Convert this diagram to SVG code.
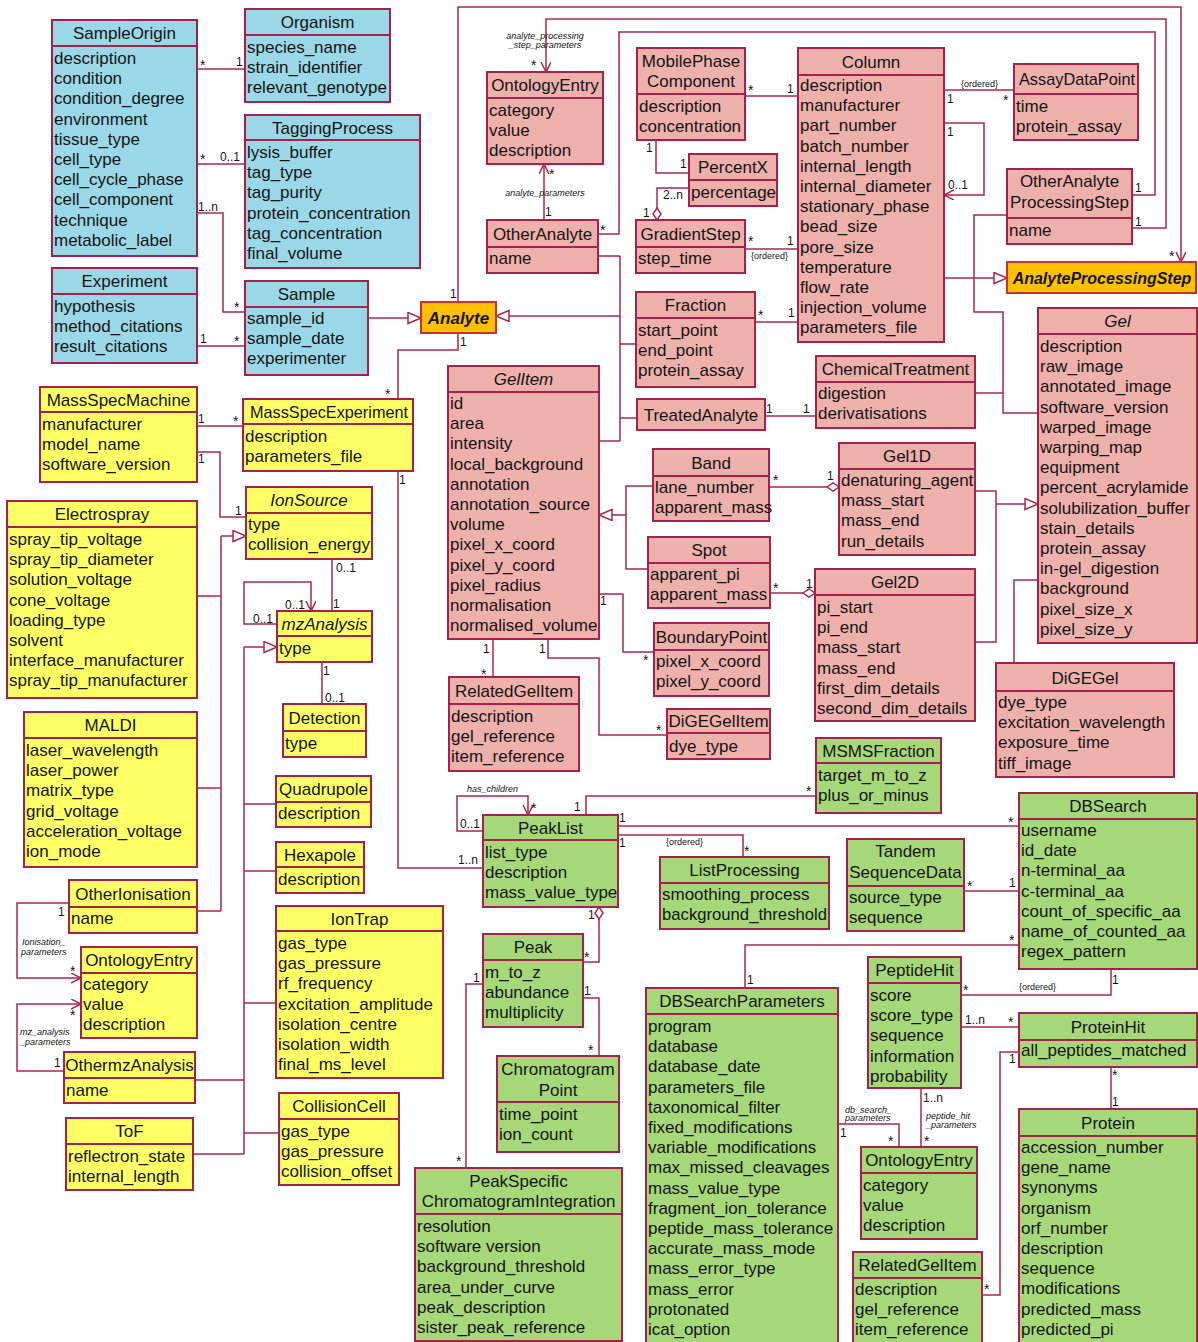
<svg xmlns="http://www.w3.org/2000/svg" width="1198" height="1342" viewBox="0 0 1198 1342">
<defs>
<style>
text{font-family:"Liberation Sans",Arial,sans-serif;fill:#141414}
.box{stroke:#a3214a;stroke-width:2}
.blue{fill:#9bd8e7}
.pink{fill:#eeb0ab}
.yel{fill:#ffff66}
.grn{fill:#a6d87a}
.org{fill:#ffc000;stroke:#d0302a}
.sep{stroke:#a3214a;stroke-width:2}
.t{font-size:17px;text-anchor:middle}
.ti{font-style:italic}
.bi{font-style:italic;font-weight:bold}
.a{font-size:17px}
.m{font-size:12px}
.s{font-size:14px}
.r{font-size:9px;font-style:italic;fill:#333}
.rc{text-anchor:middle}
.o{font-size:9px;fill:#333}
.c{fill:none;stroke:#a8284e;stroke-width:1.5}
</style>
<marker id="arr" markerUnits="userSpaceOnUse" markerWidth="12" markerHeight="12" refX="10" refY="5" orient="auto">
<path d="M0,0 L10,5 L0,10" fill="none" stroke="#a8284e" stroke-width="1.5"/>
</marker>
<marker id="tri" markerUnits="userSpaceOnUse" markerWidth="16" markerHeight="14" refX="14" refY="6" orient="auto">
<path d="M1,0.5 L14,6 L1,11.5 Z" fill="#fff" stroke="#a8284e" stroke-width="1.5"/>
</marker>
<marker id="dia" markerUnits="userSpaceOnUse" markerWidth="14" markerHeight="12" refX="13" refY="5" orient="auto">
<path d="M1,5 L7,1 L13,5 L7,9 Z" fill="#fff" stroke="#a8284e" stroke-width="1.5"/>
</marker>
</defs>
<rect width="1198" height="1342" fill="#fff"/>

<!-- associations, generalisations and aggregations -->
<g id="connectors">
<path class="c" d="M197,69H245"/>
<path class="c" d="M197,164H245"/>
<path class="c" d="M197,213H223V312H245"/>
<path class="c" d="M197,346H245"/>
<path class="c" d="M368,318H421" marker-end="url(#tri)"/>
<path class="c" d="M458,302V7H1181V262" marker-end="url(#arr)"/>
<path class="c" d="M1132,228H1166V19H546V72" marker-end="url(#arr)"/>
<path class="c" d="M1132,195H1155V32H619V234H598"/>
<path class="c" d="M544,220V164" marker-end="url(#arr)"/>
<path class="c" d="M620,316H496" marker-end="url(#tri)"/>
<path class="c" d="M620,256V441M598,256H620M620,344H636M620,418H637M599,441H620"/>
<path class="c" d="M745,96H798"/>
<path class="c" d="M656,140V173H689"/>
<path class="c" d="M689,188H657V220" marker-end="url(#dia)"/>
<path class="c" d="M745,249H798"/>
<path class="c" d="M755,322H798"/>
<path class="c" d="M944,90H1014"/>
<path class="c" d="M944,123H984V195H944" marker-end="url(#arr)"/>
<path class="c" d="M944,278H1007" marker-end="url(#tri)"/>
<path class="c" d="M1007,215H974V312H1003V413H1038M975,393H1003"/>
<path class="c" d="M765,416H816"/>
<path class="c" d="M975,491H996V642H975"/>
<path class="c" d="M996,504H1038" marker-end="url(#tri)"/>
<path class="c" d="M1038,580H1014V663"/>
<path class="c" d="M769,487H839" marker-end="url(#dia)"/>
<path class="c" d="M770,593H815" marker-end="url(#dia)"/>
<path class="c" d="M653,486H626V569H648"/>
<path class="c" d="M626,515H599" marker-end="url(#tri)"/>
<path class="c" d="M599,594H623V652H654"/>
<path class="c" d="M493,639V677"/>
<path class="c" d="M548,639V658H599V735H667"/>
<path class="c" d="M458,333V350H398V399"/>
<path class="c" d="M398,471V868H483"/>
<path class="c" d="M197,426H243"/>
<path class="c" d="M197,452H220V517H246"/>
<path class="c" d="M221,536H246" marker-end="url(#tri)"/>
<path class="c" d="M221,536V911M197,596H221M197,788H221M197,911H221"/>
<path class="c" d="M332,559V611"/>
<path class="c" d="M277,624H244V582H311V611" marker-end="url(#arr)"/>
<path class="c" d="M244,647H277" marker-end="url(#tri)"/>
<path class="c" d="M244,647V1154M244,804H276M244,871H276M244,1003H276M195,1080H244M244,1133H279M193,1154H244"/>
<path class="c" d="M322,662V704"/>
<path class="c" d="M69,903H17V978H81" marker-end="url(#arr)"/>
<path class="c" d="M64,1071H17V1004H81" marker-end="url(#arr)"/>
<path class="c" d="M483,831H457V796H528V815" marker-end="url(#arr)"/>
<path class="c" d="M586,815V796H816"/>
<path class="c" d="M618,826H1019"/>
<path class="c" d="M618,835H743V857"/>
<path class="c" d="M964,891H1019"/>
<path class="c" d="M1019,945H745V988"/>
<path class="c" d="M1111,969V995H961"/>
<path class="c" d="M583,962H599V907" marker-end="url(#dia)"/>
<path class="c" d="M583,998H599V1056"/>
<path class="c" d="M483,984H466V1168"/>
<path class="c" d="M961,1027H1019"/>
<path class="c" d="M921,1088V1147"/>
<path class="c" d="M838,1124H899V1147"/>
<path class="c" d="M1111,1067V1109"/>
<path class="c" d="M1019,1052H1000V1295H982"/>

<!-- multiplicities -->
<g class="m">
<text class="s" x="200" y="70">*</text><text x="236" y="66">1</text>
<text class="s" x="200" y="164">*</text><text x="220" y="161">0..1</text>
<text x="198" y="211">1..n</text><text class="s" x="234" y="312">*</text>
<text x="200" y="343">1</text><text class="s" x="234" y="346">*</text>
<text x="450" y="298">1</text><text class="s" x="1169" y="261">*</text>
<text x="1135" y="226">1</text><text class="s" x="531" y="70">*</text>
<text x="1135" y="192">1</text><text class="s" x="600" y="235">*</text>
<text class="s" x="549" y="179">*</text><text x="545" y="216">1</text>
<text class="s" x="748" y="95">*</text><text x="787" y="93">1</text>
<text x="646" y="152">1</text><text x="680" y="168">1</text>
<text x="663" y="199">2..n</text><text x="643" y="217">1</text>
<text class="s" x="748" y="246">*</text><text x="787" y="245">1</text>
<text class="s" x="758" y="320">*</text><text x="788" y="317">1</text>
<text x="947" y="103">1</text><text class="s" x="1003" y="105">*</text>
<text x="947" y="136">1</text><text x="948" y="189">0..1</text>
<text x="766" y="413">1</text><text x="803" y="413">1</text>
<text class="s" x="773" y="485">*</text><text x="827" y="480">1</text>
<text class="s" x="773" y="593">*</text><text x="806" y="588">1</text>
<text x="600" y="605">1</text><text class="s" x="643" y="665">*</text>
<text x="483" y="653">1</text><text class="s" x="481" y="679">*</text>
<text x="539" y="653">1</text><text class="s" x="656" y="735">*</text>
<text x="460" y="346">1</text><text class="s" x="385" y="399">*</text>
<text x="399" y="484">1</text><text x="458" y="864">1..n</text>
<text x="198" y="423">1</text><text class="s" x="233" y="426">*</text>
<text x="198" y="463">1</text><text x="235" y="515">1</text>
<text x="336" y="572">0..1</text><text x="333" y="608">1</text>
<text x="285" y="609">0..1</text><text x="253" y="623">0..1</text>
<text x="323" y="675">1</text><text x="325" y="702">0..1</text>
<text x="58" y="916">1</text><text class="s" x="70" y="976">*</text>
<text x="54" y="1067">1</text><text class="s" x="70" y="1020">*</text>
<text class="s" x="531" y="813">*</text><text x="460" y="828">0..1</text>
<text x="574" y="811">1</text><text class="s" x="806" y="796">*</text>
<text x="619" y="822">1</text><text class="s" x="1008" y="827">*</text>
<text x="619" y="847">1</text><text class="s" x="744" y="856">*</text>
<text class="s" x="967" y="891">*</text><text x="1009" y="887">1</text>
<text class="s" x="1009" y="945">*</text><text x="747" y="984">1</text>
<text x="1112" y="984">1</text><text class="s" x="963" y="995">*</text>
<text x="588" y="919">1</text><text class="s" x="584" y="962">*</text>
<text x="584" y="995">1</text><text class="s" x="588" y="1055">*</text>
<text x="473" y="982">1</text><text class="s" x="456" y="1166">*</text>
<text x="965" y="1024">1..n</text><text class="s" x="1008" y="1027">*</text>
<text x="923" y="1102">1..n</text><text class="s" x="924" y="1146">*</text>
<text x="840" y="1137">1</text><text class="s" x="888" y="1146">*</text>
<text class="s" x="1112" y="1080">*</text><text x="1112" y="1106">1</text>
<text x="1009" y="1063">1</text><text class="s" x="984" y="1294">*</text>
</g>
<!-- constraints -->
<g class="o">
<text x="961" y="87">{ordered}</text>
<text x="751" y="259">{ordered}</text>
<text x="666" y="845">{ordered}</text>
<text x="1019" y="990">{ordered}</text>
</g>
<!-- role names -->
<g class="r">
<text class="rc" x="545" y="39">analyte_processing</text>
<text class="rc" x="545" y="48">_step_parameters</text>
<text class="rc" x="545" y="196">analyte_parameters</text>
<text x="467" y="792">has_children</text>
<text x="22" y="945">Ionisation_</text>
<text x="21" y="955">parameters</text>
<text x="20" y="1035">mz_analysis</text>
<text x="20" y="1045">_parameters</text>
<text x="845" y="1113">db_search_</text>
<text x="845" y="1121">parameters</text>
<text x="926" y="1119">peptide_hit</text>
<text x="926" y="1128">_parameters</text>
</g>
</g>

<!-- sample description (blue) -->
<g id="SampleOrigin">
<rect class="box blue" x="52" y="20" width="145" height="236"/>
<line class="sep" x1="52" y1="46" x2="197" y2="46"/>
<text class="t" x="124.5" y="39">SampleOrigin</text>
<text class="a" x="54" y="64"><tspan>description</tspan><tspan x="54" dy="20.2">condition</tspan><tspan x="54" dy="20.2">condition_degree</tspan><tspan x="54" dy="20.2">environment</tspan><tspan x="54" dy="20.2">tissue_type</tspan><tspan x="54" dy="20.2">cell_type</tspan><tspan x="54" dy="20.2">cell_cycle_phase</tspan><tspan x="54" dy="20.2">cell_component</tspan><tspan x="54" dy="20.2">technique</tspan><tspan x="54" dy="20.2">metabolic_label</tspan></text>
</g>
<g id="Organism">
<rect class="box blue" x="245" y="9" width="145" height="93"/>
<line class="sep" x1="245" y1="35" x2="390" y2="35"/>
<text class="t" x="317.5" y="28">Organism</text>
<text class="a" x="247" y="53"><tspan>species_name</tspan><tspan x="247" dy="20.2">strain_identifier</tspan><tspan x="247" dy="20.2">relevant_genotype</tspan></text>
</g>
<g id="TaggingProcess">
<rect class="box blue" x="245" y="115" width="175" height="153"/>
<line class="sep" x1="245" y1="140" x2="420" y2="140"/>
<text class="t" x="332.5" y="134">TaggingProcess</text>
<text class="a" x="247" y="158"><tspan>lysis_buffer</tspan><tspan x="247" dy="20.2">tag_type</tspan><tspan x="247" dy="20.2">tag_purity</tspan><tspan x="247" dy="20.2">protein_concentration</tspan><tspan x="247" dy="20.2">tag_concentration</tspan><tspan x="247" dy="20.2">final_volume</tspan></text>
</g>
<g id="Experiment">
<rect class="box blue" x="52" y="268" width="145" height="95"/>
<line class="sep" x1="52" y1="294" x2="197" y2="294"/>
<text class="t" x="124.5" y="287">Experiment</text>
<text class="a" x="54" y="312"><tspan>hypothesis</tspan><tspan x="54" dy="20.2">method_citations</tspan><tspan x="54" dy="20.2">result_citations</tspan></text>
</g>
<g id="Sample">
<rect class="box blue" x="245" y="281" width="123" height="94"/>
<line class="sep" x1="245" y1="307" x2="368" y2="307"/>
<text class="t" x="306.5" y="300">Sample</text>
<text class="a" x="247" y="324"><tspan>sample_id</tspan><tspan x="247" dy="20.2">sample_date</tspan><tspan x="247" dy="20.2">experimenter</tspan></text>
</g>

<!-- abstract roots (orange) -->
<g id="Analyte">
<rect class="box org" x="421" y="302" width="75" height="31"/>
<text class="t bi" x="458.5" y="324">Analyte</text>
</g>
<g id="AnalyteProcessingStep">
<rect class="box org" x="1007" y="262" width="189" height="31"/>
<text class="t bi" x="1102" y="283.5" style="font-size:16px">AnalyteProcessingStep</text>
</g>

<!-- sample processing (pink) -->
<g id="OntologyEntry-analyte">
<rect class="box pink" x="487" y="72" width="116" height="92"/>
<line class="sep" x1="487" y1="98" x2="603" y2="98"/>
<text class="t" x="545" y="91">OntologyEntry</text>
<text class="a" x="489" y="116"><tspan>category</tspan><tspan x="489" dy="20.2">value</tspan><tspan x="489" dy="20.2">description</tspan></text>
</g>
<g id="OtherAnalyte">
<rect class="box pink" x="487" y="220" width="111" height="53"/>
<line class="sep" x1="487" y1="247" x2="598" y2="247"/>
<text class="t" x="542.5" y="239.5">OtherAnalyte</text>
<text class="a" x="489" y="264">name</text>
</g>
<g id="MobilePhaseComponent">
<rect class="box pink" x="637" y="48" width="108" height="92"/>
<line class="sep" x1="637" y1="94" x2="745" y2="94"/>
<text class="t" x="691" y="67">MobilePhase</text>
<text class="t" x="691" y="87">Component</text>
<text class="a" x="639" y="112"><tspan>description</tspan><tspan x="639" dy="20.2">concentration</tspan></text>
</g>
<g id="PercentX">
<rect class="box pink" x="689" y="154" width="88" height="52"/>
<line class="sep" x1="689" y1="180" x2="777" y2="180"/>
<text class="t" x="733" y="173">PercentX</text>
<text class="a" x="691" y="198">percentage</text>
</g>
<g id="GradientStep">
<rect class="box pink" x="636" y="220" width="109" height="53"/>
<line class="sep" x1="636" y1="247" x2="745" y2="247"/>
<text class="t" x="690.5" y="239.5">GradientStep</text>
<text class="a" x="638" y="264">step_time</text>
</g>
<g id="Fraction">
<rect class="box pink" x="636" y="292" width="119" height="95"/>
<line class="sep" x1="636" y1="318" x2="755" y2="318"/>
<text class="t" x="695.5" y="311">Fraction</text>
<text class="a" x="638" y="336"><tspan>start_point</tspan><tspan x="638" dy="20.2">end_point</tspan><tspan x="638" dy="20.2">protein_assay</tspan></text>
</g>
<g id="TreatedAnalyte">
<rect class="box pink" x="637" y="399" width="128" height="31"/>
<text class="t" x="701" y="420.5">TreatedAnalyte</text>
</g>
<g id="Column">
<rect class="box pink" x="798" y="48" width="146" height="294"/>
<line class="sep" x1="798" y1="75" x2="944" y2="75"/>
<text class="t" x="871" y="67.5">Column</text>
<text class="a" x="800" y="91"><tspan>description</tspan><tspan x="800" dy="20.2">manufacturer</tspan><tspan x="800" dy="20.2">part_number</tspan><tspan x="800" dy="20.2">batch_number</tspan><tspan x="800" dy="20.2">internal_length</tspan><tspan x="800" dy="20.2">internal_diameter</tspan><tspan x="800" dy="20.2">stationary_phase</tspan><tspan x="800" dy="20.2">bead_size</tspan><tspan x="800" dy="20.2">pore_size</tspan><tspan x="800" dy="20.2">temperature</tspan><tspan x="800" dy="20.2">flow_rate</tspan><tspan x="800" dy="20.2">injection_volume</tspan><tspan x="800" dy="20.2">parameters_file</tspan></text>
</g>
<g id="AssayDataPoint">
<rect class="box pink" x="1014" y="64" width="124" height="76"/>
<line class="sep" x1="1014" y1="94" x2="1138" y2="94"/>
<text class="t" x="1077" y="85" textLength="116" lengthAdjust="spacingAndGlyphs">AssayDataPoint</text>
<text class="a" x="1016" y="112"><tspan>time</tspan><tspan x="1016" dy="20.2">protein_assay</tspan></text>
</g>
<g id="OtherAnalyteProcessingStep">
<rect class="box pink" x="1007" y="169" width="125" height="75"/>
<line class="sep" x1="1007" y1="218" x2="1132" y2="218"/>
<text class="t" x="1069.5" y="187">OtherAnalyte</text>
<text class="t" x="1069.5" y="208">ProcessingStep</text>
<text class="a" x="1009" y="236">name</text>
</g>
<g id="ChemicalTreatment">
<rect class="box pink" x="816" y="356" width="159" height="72"/>
<line class="sep" x1="816" y1="382" x2="975" y2="382"/>
<text class="t" x="895.5" y="375">ChemicalTreatment</text>
<text class="a" x="818" y="399"><tspan>digestion</tspan><tspan x="818" dy="20.2">derivatisations</tspan></text>
</g>
<g id="Gel">
<rect class="box pink" x="1038" y="308" width="159" height="335"/>
<line class="sep" x1="1038" y1="334" x2="1197" y2="334"/>
<text class="t ti" x="1117.5" y="327">Gel</text>
<text class="a" x="1040" y="352"><tspan>description</tspan><tspan x="1040" dy="20.2">raw_image</tspan><tspan x="1040" dy="20.2">annotated_image</tspan><tspan x="1040" dy="20.2">software_version</tspan><tspan x="1040" dy="20.2">warped_image</tspan><tspan x="1040" dy="20.2">warping_map</tspan><tspan x="1040" dy="20.2">equipment</tspan><tspan x="1040" dy="20.2">percent_acrylamide</tspan><tspan x="1040" dy="20.2">solubilization_buffer</tspan><tspan x="1040" dy="20.2">stain_details</tspan><tspan x="1040" dy="20.2">protein_assay</tspan><tspan x="1040" dy="20.2">in-gel_digestion</tspan><tspan x="1040" dy="20.2">background</tspan><tspan x="1040" dy="20.2">pixel_size_x</tspan><tspan x="1040" dy="20.2">pixel_size_y</tspan></text>
</g>
<g id="Gel1D">
<rect class="box pink" x="839" y="443" width="136" height="112"/>
<line class="sep" x1="839" y1="469" x2="975" y2="469"/>
<text class="t" x="907" y="462">Gel1D</text>
<text class="a" x="841" y="486"><tspan>denaturing_agent</tspan><tspan x="841" dy="20.2">mass_start</tspan><tspan x="841" dy="20.2">mass_end</tspan><tspan x="841" dy="20.2">run_details</tspan></text>
</g>
<g id="Gel2D">
<rect class="box pink" x="815" y="569" width="160" height="152"/>
<line class="sep" x1="815" y1="595" x2="975" y2="595"/>
<text class="t" x="895" y="588">Gel2D</text>
<text class="a" x="817" y="613"><tspan>pi_start</tspan><tspan x="817" dy="20.2">pi_end</tspan><tspan x="817" dy="20.2">mass_start</tspan><tspan x="817" dy="20.2">mass_end</tspan><tspan x="817" dy="20.2">first_dim_details</tspan><tspan x="817" dy="20.2">second_dim_details</tspan></text>
</g>
<g id="DiGEGel">
<rect class="box pink" x="996" y="663" width="178" height="114"/>
<line class="sep" x1="996" y1="691" x2="1174" y2="691"/>
<text class="t" x="1085" y="684">DiGEGel</text>
<text class="a" x="998" y="708"><tspan>dye_type</tspan><tspan x="998" dy="20.2">excitation_wavelength</tspan><tspan x="998" dy="20.2">exposure_time</tspan><tspan x="998" dy="20.2">tiff_image</tspan></text>
</g>
<g id="GelItem">
<rect class="box pink" x="448" y="366" width="151" height="273"/>
<line class="sep" x1="448" y1="392" x2="599" y2="392"/>
<text class="t ti" x="523.5" y="385">GelItem</text>
<text class="a" x="450" y="409"><tspan>id</tspan><tspan x="450" dy="20.2">area</tspan><tspan x="450" dy="20.2">intensity</tspan><tspan x="450" dy="20.2">local_background</tspan><tspan x="450" dy="20.2">annotation</tspan><tspan x="450" dy="20.2">annotation_source</tspan><tspan x="450" dy="20.2">volume</tspan><tspan x="450" dy="20.2">pixel_x_coord</tspan><tspan x="450" dy="20.2">pixel_y_coord</tspan><tspan x="450" dy="20.2">pixel_radius</tspan><tspan x="450" dy="20.2">normalisation</tspan><tspan x="450" dy="20.2">normalised_volume</tspan></text>
</g>
<g id="Band">
<rect class="box pink" x="653" y="449" width="116" height="72"/>
<line class="sep" x1="653" y1="476" x2="769" y2="476"/>
<text class="t" x="711" y="469">Band</text>
<text class="a" x="655" y="493"><tspan>lane_number</tspan><tspan x="655" dy="20.2">apparent_mass</tspan></text>
</g>
<g id="Spot">
<rect class="box pink" x="648" y="537" width="122" height="71"/>
<line class="sep" x1="648" y1="563" x2="770" y2="563"/>
<text class="t" x="709" y="556">Spot</text>
<text class="a" x="650" y="580"><tspan>apparent_pi</tspan><tspan x="650" dy="20.2">apparent_mass</tspan></text>
</g>
<g id="BoundaryPoint">
<rect class="box pink" x="654" y="623" width="115" height="73"/>
<line class="sep" x1="654" y1="650" x2="769" y2="650"/>
<text class="t" x="711.5" y="642.5">BoundaryPoint</text>
<text class="a" x="656" y="667"><tspan>pixel_x_coord</tspan><tspan x="656" dy="20.2">pixel_y_coord</tspan></text>
</g>
<g id="RelatedGelItem-gel">
<rect class="box pink" x="449" y="677" width="130" height="94"/>
<line class="sep" x1="449" y1="704" x2="579" y2="704"/>
<text class="t" x="514" y="696.5">RelatedGelItem</text>
<text class="a" x="451" y="722"><tspan>description</tspan><tspan x="451" dy="20.2">gel_reference</tspan><tspan x="451" dy="20.2">item_reference</tspan></text>
</g>
<g id="DiGEGelItem">
<rect class="box pink" x="667" y="709" width="103" height="50"/>
<line class="sep" x1="667" y1="733" x2="770" y2="733"/>
<text class="t" x="718.5" y="727">DiGEGelItem</text>
<text class="a" x="669" y="752">dye_type</text>
</g>

<!-- mass spectrometry (yellow) -->
<g id="MassSpecMachine">
<rect class="box yel" x="40" y="387" width="157" height="95"/>
<line class="sep" x1="40" y1="412" x2="197" y2="412"/>
<text class="t" x="118.5" y="405.5">MassSpecMachine</text>
<text class="a" x="42" y="430"><tspan>manufacturer</tspan><tspan x="42" dy="20.2">model_name</tspan><tspan x="42" dy="20.2">software_version</tspan></text>
</g>
<g id="MassSpecExperiment">
<rect class="box yel" x="243" y="399" width="170" height="72"/>
<line class="sep" x1="243" y1="424" x2="413" y2="424"/>
<text class="t" x="329" y="417.5" textLength="158" lengthAdjust="spacingAndGlyphs">MassSpecExperiment</text>
<text class="a" x="245" y="442"><tspan>description</tspan><tspan x="245" dy="20.2">parameters_file</tspan></text>
</g>
<g id="IonSource">
<rect class="box yel" x="246" y="487" width="126" height="72"/>
<line class="sep" x1="246" y1="513" x2="372" y2="513"/>
<text class="t ti" x="309" y="506">IonSource</text>
<text class="a" x="248" y="530"><tspan>type</tspan><tspan x="248" dy="20.2">collision_energy</tspan></text>
</g>
<g id="Electrospray">
<rect class="box yel" x="7" y="501" width="190" height="197"/>
<line class="sep" x1="7" y1="527" x2="197" y2="527"/>
<text class="t" x="102" y="520">Electrospray</text>
<text class="a" x="9" y="545"><tspan>spray_tip_voltage</tspan><tspan x="9" dy="20.2">spray_tip_diameter</tspan><tspan x="9" dy="20.2">solution_voltage</tspan><tspan x="9" dy="20.2">cone_voltage</tspan><tspan x="9" dy="20.2">loading_type</tspan><tspan x="9" dy="20.2">solvent</tspan><tspan x="9" dy="20.2">interface_manufacturer</tspan><tspan x="9" dy="20.2">spray_tip_manufacturer</tspan></text>
</g>
<g id="mzAnalysis">
<rect class="box yel" x="277" y="611" width="95" height="51"/>
<line class="sep" x1="277" y1="636" x2="372" y2="636"/>
<text class="t ti" x="324.5" y="629.5">mzAnalysis</text>
<text class="a" x="279" y="654">type</text>
</g>
<g id="Detection">
<rect class="box yel" x="283" y="704" width="83" height="53"/>
<line class="sep" x1="283" y1="731" x2="366" y2="731"/>
<text class="t" x="324.5" y="723.5">Detection</text>
<text class="a" x="285" y="749">type</text>
</g>
<g id="Quadrupole">
<rect class="box yel" x="276" y="776" width="95" height="51"/>
<line class="sep" x1="276" y1="802" x2="371" y2="802"/>
<text class="t" x="323.5" y="795">Quadrupole</text>
<text class="a" x="278" y="819">description</text>
</g>
<g id="Hexapole">
<rect class="box yel" x="276" y="842" width="88" height="51"/>
<line class="sep" x1="276" y1="867" x2="364" y2="867"/>
<text class="t" x="320" y="860.5">Hexapole</text>
<text class="a" x="278" y="885">description</text>
</g>
<g id="IonTrap">
<rect class="box yel" x="276" y="906" width="167" height="172"/>
<line class="sep" x1="276" y1="931" x2="443" y2="931"/>
<text class="t" x="359.5" y="924.5">IonTrap</text>
<text class="a" x="278" y="949"><tspan>gas_type</tspan><tspan x="278" dy="20.2">gas_pressure</tspan><tspan x="278" dy="20.2">rf_frequency</tspan><tspan x="278" dy="20.2">excitation_amplitude</tspan><tspan x="278" dy="20.2">isolation_centre</tspan><tspan x="278" dy="20.2">isolation_width</tspan><tspan x="278" dy="20.2">final_ms_level</tspan></text>
</g>
<g id="CollisionCell">
<rect class="box yel" x="279" y="1093" width="120" height="92"/>
<line class="sep" x1="279" y1="1119" x2="399" y2="1119"/>
<text class="t" x="339" y="1112">CollisionCell</text>
<text class="a" x="281" y="1137"><tspan>gas_type</tspan><tspan x="281" dy="20.2">gas_pressure</tspan><tspan x="281" dy="20.2">collision_offset</tspan></text>
</g>
<g id="MALDI">
<rect class="box yel" x="24" y="712" width="173" height="155"/>
<line class="sep" x1="24" y1="738" x2="197" y2="738"/>
<text class="t" x="110.5" y="731">MALDI</text>
<text class="a" x="26" y="756"><tspan>laser_wavelength</tspan><tspan x="26" dy="20.2">laser_power</tspan><tspan x="26" dy="20.2">matrix_type</tspan><tspan x="26" dy="20.2">grid_voltage</tspan><tspan x="26" dy="20.2">acceleration_voltage</tspan><tspan x="26" dy="20.2">ion_mode</tspan></text>
</g>
<g id="OtherIonisation">
<rect class="box yel" x="69" y="880" width="128" height="53"/>
<line class="sep" x1="69" y1="907" x2="197" y2="907"/>
<text class="t" x="133" y="899.5">OtherIonisation</text>
<text class="a" x="71" y="924">name</text>
</g>
<g id="OntologyEntry-ms">
<rect class="box yel" x="81" y="947" width="116" height="91"/>
<line class="sep" x1="81" y1="973" x2="197" y2="973"/>
<text class="t" x="139" y="966">OntologyEntry</text>
<text class="a" x="83" y="990"><tspan>category</tspan><tspan x="83" dy="20.2">value</tspan><tspan x="83" dy="20.2">description</tspan></text>
</g>
<g id="OthermzAnalysis">
<rect class="box yel" x="64" y="1052" width="131" height="51"/>
<line class="sep" x1="64" y1="1078" x2="195" y2="1078"/>
<text class="t" x="129.5" y="1071">OthermzAnalysis</text>
<text class="a" x="66" y="1096">name</text>
</g>
<g id="ToF">
<rect class="box yel" x="66" y="1118" width="127" height="72"/>
<line class="sep" x1="66" y1="1144" x2="193" y2="1144"/>
<text class="t" x="129.5" y="1137">ToF</text>
<text class="a" x="68" y="1162"><tspan>reflectron_state</tspan><tspan x="68" dy="20.2">internal_length</tspan></text>
</g>

<!-- peak lists and identification (green) -->
<g id="PeakList">
<rect class="box grn" x="483" y="815" width="135" height="92"/>
<line class="sep" x1="483" y1="840" x2="618" y2="840"/>
<text class="t" x="550.5" y="833.5">PeakList</text>
<text class="a" x="485" y="858"><tspan>list_type</tspan><tspan x="485" dy="20.2">description</tspan><tspan x="485" dy="20.2">mass_value_type</tspan></text>
</g>
<g id="MSMSFraction">
<rect class="box grn" x="816" y="738" width="125" height="75"/>
<line class="sep" x1="816" y1="763" x2="941" y2="763"/>
<text class="t" x="878.5" y="756.5">MSMSFraction</text>
<text class="a" x="818" y="781"><tspan>target_m_to_z</tspan><tspan x="818" dy="20.2">plus_or_minus</tspan></text>
</g>
<g id="ListProcessing">
<rect class="box grn" x="660" y="857" width="169" height="72"/>
<line class="sep" x1="660" y1="883" x2="829" y2="883"/>
<text class="t" x="744.5" y="876">ListProcessing</text>
<text class="a" x="662" y="900"><tspan>smoothing_process</tspan><tspan x="662" dy="20.2" textLength="165" lengthAdjust="spacingAndGlyphs">background_threshold</tspan></text>
</g>
<g id="TandemSequenceData">
<rect class="box grn" x="847" y="839" width="117" height="92"/>
<line class="sep" x1="847" y1="886" x2="964" y2="886"/>
<text class="t" x="905.5" y="857">Tandem</text>
<text class="t" x="905.5" y="878">SequenceData</text>
<text class="a" x="849" y="903"><tspan>source_type</tspan><tspan x="849" dy="20.2">sequence</tspan></text>
</g>
<g id="DBSearch">
<rect class="box grn" x="1019" y="793" width="178" height="176"/>
<line class="sep" x1="1019" y1="819" x2="1197" y2="819"/>
<text class="t" x="1108" y="812">DBSearch</text>
<text class="a" x="1021" y="836"><tspan>username</tspan><tspan x="1021" dy="20.2">id_date</tspan><tspan x="1021" dy="20.2">n-terminal_aa</tspan><tspan x="1021" dy="20.2">c-terminal_aa</tspan><tspan x="1021" dy="20.2">count_of_specific_aa</tspan><tspan x="1021" dy="20.2">name_of_counted_aa</tspan><tspan x="1021" dy="20.2">regex_pattern</tspan></text>
</g>
<g id="Peak">
<rect class="box grn" x="483" y="934" width="100" height="93"/>
<line class="sep" x1="483" y1="960" x2="583" y2="960"/>
<text class="t" x="533" y="953">Peak</text>
<text class="a" x="485" y="978"><tspan>m_to_z</tspan><tspan x="485" dy="20.2">abundance</tspan><tspan x="485" dy="20.2">multiplicity</tspan></text>
</g>
<g id="ChromatogramPoint">
<rect class="box grn" x="497" y="1056" width="122" height="96"/>
<line class="sep" x1="497" y1="1102" x2="619" y2="1102"/>
<text class="t" x="558" y="1075">Chromatogram</text>
<text class="t" x="558" y="1096">Point</text>
<text class="a" x="499" y="1120"><tspan>time_point</tspan><tspan x="499" dy="20.2">ion_count</tspan></text>
</g>
<g id="PeakSpecificChromatogramIntegration">
<rect class="box grn" x="415" y="1168" width="207" height="173"/>
<line class="sep" x1="415" y1="1214" x2="622" y2="1214"/>
<text class="t" x="518.5" y="1187">PeakSpecific</text>
<text class="t" x="518.5" y="1207">ChromatogramIntegration</text>
<text class="a" x="417" y="1232"><tspan>resolution</tspan><tspan x="417" dy="20.2">software version</tspan><tspan x="417" dy="20.2">background_threshold</tspan><tspan x="417" dy="20.2">area_under_curve</tspan><tspan x="417" dy="20.2">peak_description</tspan><tspan x="417" dy="20.2">sister_peak_reference</tspan></text>
</g>
<g id="DBSearchParameters">
<rect class="box grn" x="646" y="988" width="192" height="362"/>
<line class="sep" x1="646" y1="1014" x2="838" y2="1014"/>
<text class="t" x="742" y="1007">DBSearchParameters</text>
<text class="a" x="648" y="1032"><tspan>program</tspan><tspan x="648" dy="20.2">database</tspan><tspan x="648" dy="20.2">database_date</tspan><tspan x="648" dy="20.2">parameters_file</tspan><tspan x="648" dy="20.2">taxonomical_filter</tspan><tspan x="648" dy="20.2">fixed_modifications</tspan><tspan x="648" dy="20.2">variable_modifications</tspan><tspan x="648" dy="20.2">max_missed_cleavages</tspan><tspan x="648" dy="20.2">mass_value_type</tspan><tspan x="648" dy="20.2">fragment_ion_tolerance</tspan><tspan x="648" dy="20.2">peptide_mass_tolerance</tspan><tspan x="648" dy="20.2">accurate_mass_mode</tspan><tspan x="648" dy="20.2">mass_error_type</tspan><tspan x="648" dy="20.2">mass_error</tspan><tspan x="648" dy="20.2">protonated</tspan><tspan x="648" dy="20.2">icat_option</tspan></text>
</g>
<g id="PeptideHit">
<rect class="box grn" x="868" y="957" width="93" height="131"/>
<line class="sep" x1="868" y1="983" x2="961" y2="983"/>
<text class="t" x="914.5" y="976">PeptideHit</text>
<text class="a" x="870" y="1001"><tspan>score</tspan><tspan x="870" dy="20.2">score_type</tspan><tspan x="870" dy="20.2">sequence</tspan><tspan x="870" dy="20.2">information</tspan><tspan x="870" dy="20.2">probability</tspan></text>
</g>
<g id="ProteinHit">
<rect class="box grn" x="1019" y="1013" width="178" height="54"/>
<line class="sep" x1="1019" y1="1040" x2="1197" y2="1040"/>
<text class="t" x="1108" y="1032.5">ProteinHit</text>
<text class="a" x="1021" y="1056">all_peptides_matched</text>
</g>
<g id="OntologyEntry-search">
<rect class="box grn" x="861" y="1147" width="116" height="92"/>
<line class="sep" x1="861" y1="1173" x2="977" y2="1173"/>
<text class="t" x="919" y="1166">OntologyEntry</text>
<text class="a" x="863" y="1191"><tspan>category</tspan><tspan x="863" dy="20.2">value</tspan><tspan x="863" dy="20.2">description</tspan></text>
</g>
<g id="RelatedGelItem-protein">
<rect class="box grn" x="853" y="1252" width="129" height="100"/>
<line class="sep" x1="853" y1="1278" x2="982" y2="1278"/>
<text class="t" x="917.5" y="1271">RelatedGelItem</text>
<text class="a" x="855" y="1295"><tspan>description</tspan><tspan x="855" dy="20.2">gel_reference</tspan><tspan x="855" dy="20.2">item_reference</tspan></text>
</g>
<g id="Protein">
<rect class="box grn" x="1019" y="1109" width="178" height="240"/>
<line class="sep" x1="1019" y1="1136" x2="1197" y2="1136"/>
<text class="t" x="1108" y="1128.5">Protein</text>
<text class="a" x="1021" y="1153"><tspan>accession_number</tspan><tspan x="1021" dy="20.2">gene_name</tspan><tspan x="1021" dy="20.2">synonyms</tspan><tspan x="1021" dy="20.2">organism</tspan><tspan x="1021" dy="20.2">orf_number</tspan><tspan x="1021" dy="20.2">description</tspan><tspan x="1021" dy="20.2">sequence</tspan><tspan x="1021" dy="20.2">modifications</tspan><tspan x="1021" dy="20.2">predicted_mass</tspan><tspan x="1021" dy="20.2">predicted_pi</tspan></text>
</g>
</svg>
